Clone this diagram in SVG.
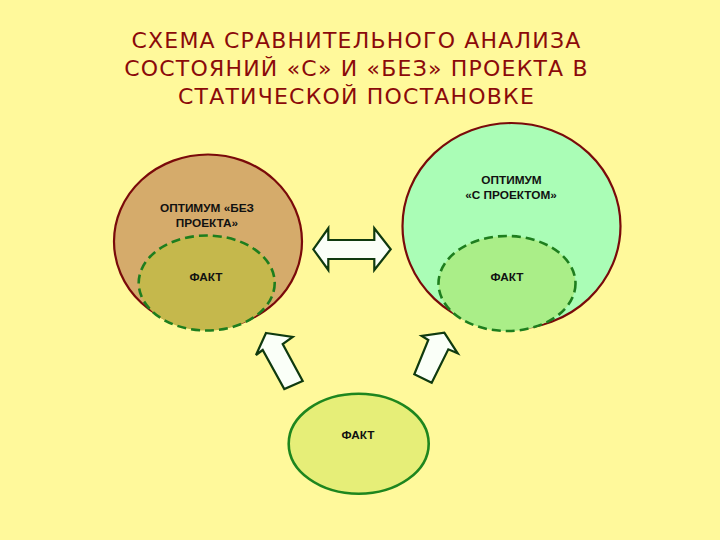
<svg xmlns="http://www.w3.org/2000/svg" width="720" height="540" viewBox="0 0 720 540">
<style>
.title{font-family:"DejaVu Sans",sans-serif;font-size:22px;letter-spacing:1.2px;fill:#8B0A0A;text-anchor:middle}
.lbl{font-family:"Liberation Sans",Arial,sans-serif;font-size:11.8px;font-weight:bold;fill:#111;text-anchor:middle}
.big{stroke:#7A0A0A;stroke-width:2.2}
.dash{stroke:#1E7E1E;stroke-width:2.6;stroke-dasharray:9 5}
.arrow{fill:#FAFFF8;stroke:#0F3A0F;stroke-width:2.2;stroke-linejoin:miter}
</style>
<rect width="720" height="540" fill="#FFF99B"/>
<g id="title">
<text class="title" x="356.5" y="48">СХЕМА СРАВНИТЕЛЬНОГО АНАЛИЗА</text>
<text class="title" x="356.5" y="76">СОСТОЯНИЙ «С» И «БЕЗ» ПРОЕКТА В</text>
<text class="title" x="356.5" y="104">СТАТИЧЕСКОЙ ПОСТАНОВКЕ</text>
</g>
<g id="opt-bez">
<ellipse class="big" cx="208" cy="241.5" rx="94" ry="87" fill="#D5AB6B"/>
<text class="lbl" x="207" y="211.5">ОПТИМУМ «БЕЗ</text>
<text class="lbl" x="207" y="226.5">ПРОЕКТА»</text>
</g>
<g id="fact-bez">
<ellipse class="dash" cx="206.7" cy="283" rx="68" ry="47.5" fill="#C5B84C"/>
<text class="lbl" x="206" y="280.5">ФАКТ</text>
</g>
<g id="opt-s">
<ellipse class="big" cx="511.5" cy="226" rx="109" ry="103" fill="#AAFDB6"/>
<text class="lbl" x="511.5" y="183.5">ОПТИМУМ</text>
<text class="lbl" x="511" y="198.5">«С ПРОЕКТОМ»</text>
</g>
<g id="fact-s">
<ellipse class="dash" cx="507" cy="283.5" rx="68.5" ry="47.5" fill="#AAEE88"/>
<text class="lbl" x="507" y="280.5">ФАКТ</text>
</g>
<g id="fact">
<ellipse cx="358.7" cy="443.7" rx="70" ry="50" fill="#E6EE78" stroke="#1E861E" stroke-width="2.6"/>
<text class="lbl" x="358" y="438.5">ФАКТ</text>
</g>
<g id="connectors">
<polygon class="arrow" points="313.3,249.3 328.3,228.3 328.3,240 374.3,240 374.3,228.3 390.7,249.3 374.3,270 374.3,259 328.3,259 328.3,270"/>
<polygon class="arrow" points="266,333 292.7,337 282.7,344 302.7,381 284.3,389 262.7,350 256,355"/>
<polygon class="arrow" points="444.3,332.7 457.7,353.3 448.3,349.3 431.7,382.7 414.3,374.3 428.3,340 421.7,336"/>
</g>
</svg>
